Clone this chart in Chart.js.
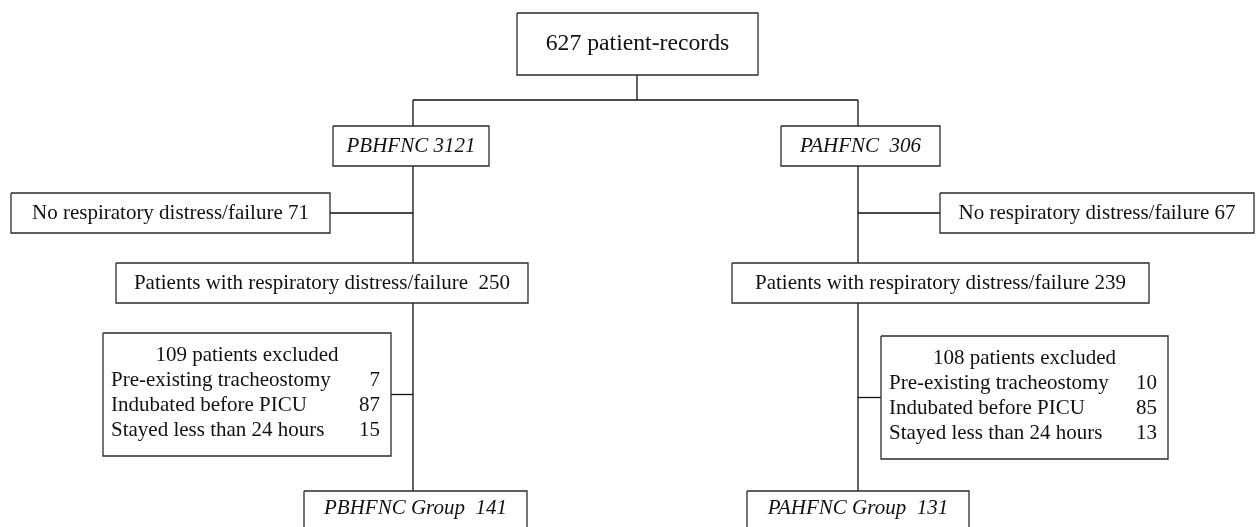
<!DOCTYPE html>
<html lang="en">
<head>
    <meta charset="UTF-8">
    <title>Patient flow</title>
    <script src="https://cdn.jsdelivr.net/npm/chart.js"></script>
    <style>
        body {
            margin: 0;
            background-color: #fff;
        }
        canvas {
            display: block;
        }
    </style>
</head>
<body>

    <canvas id="flowChart" width="1257" height="527"></canvas>

    <script>
        // counts
        const totalRecords = 627;
        const armNames = ['PBHFNC', 'PAHFNC'];
        const armTotals = [3121, 306];
        const noDistress = [71, 67];
        const withDistress = [250, 239];
        const excludedTotals = [109, 108];
        const exclusionReasons = ['Pre-existing tracheostomy', 'Indubated before PICU', 'Stayed less than 24 hours'];
        const excludedCounts = [[7, 87, 15], [10, 85, 13]];
        const groupTotals = [141, 131];

        // layout of the boxes in chart units (x0, y0, x1, y1), left arm then right arm
        const topBox = [517, 13, 758, 75];
        const armBoxes = [[333, 126, 489, 166], [781, 126, 940, 166]];
        const noDistressBoxes = [[11, 193, 330, 233], [940, 193, 1254, 233]];
        const distressBoxes = [[116, 263, 528, 303], [732, 263, 1149, 303]];
        const excludedBoxes = [[103, 333, 391, 456], [881, 336, 1168, 459]];
        const groupBoxes = [[304, 491, 527, 545], [747, 491, 969, 545]];
        const spineX = [413, 858];

        const boxColor = '#2b2b2b';
        const lineColor = '#111';

        function rectPoints(b) {
            return [
                { x: b[0], y: b[1] }, { x: b[2], y: b[1] },
                { x: b[2], y: b[3] }, { x: b[0], y: b[3] }, { x: b[0], y: b[1] }
            ];
        }

        function seg(x0, y0, x1, y1) {
            return [{ x: x0, y: y0 }, { x: x1, y: y1 }];
        }

        const allBoxes = [topBox, ...armBoxes, ...noDistressBoxes, ...distressBoxes, ...excludedBoxes, ...groupBoxes];

        const connectors = [
            seg(637, topBox[3], 637, 100),
            seg(spineX[0], 100, spineX[1], 100)
        ];
        [0, 1].forEach(i => {
            const x = spineX[i];
            const side = i === 0 ? 2 : 0;
            const midNo = (noDistressBoxes[i][1] + noDistressBoxes[i][3]) / 2;
            const midEx = (excludedBoxes[i][1] + excludedBoxes[i][3]) / 2;
            connectors.push(seg(x, 100, x, armBoxes[i][1]));
            connectors.push(seg(x, armBoxes[i][3], x, distressBoxes[i][1]));
            connectors.push(seg(noDistressBoxes[i][side], midNo, x, midNo));
            connectors.push(seg(x, distressBoxes[i][3], x, groupBoxes[i][1]));
            connectors.push(seg(excludedBoxes[i][side], midEx, x, midEx));
        });

        const datasets = [];
        allBoxes.forEach(b => datasets.push({
            data: rectPoints(b),
            showLine: true,
            borderColor: boxColor,
            borderWidth: 1.3,
            pointRadius: 0
        }));
        connectors.forEach(c => datasets.push({
            data: c,
            showLine: true,
            borderColor: lineColor,
            borderWidth: 1.3,
            pointRadius: 0
        }));

        const serif = '"Liberation Serif", "Times New Roman", serif';

        const textPlugin = {
            id: 'flowText',
            afterDatasetsDraw(chart) {
                const ctx = chart.ctx;
                const xs = chart.scales.x;
                const ys = chart.scales.y;
                const px = v => xs.getPixelForValue(v);
                const py = v => ys.getPixelForValue(v);

                function centerText(b, text, font, dy) {
                    ctx.font = font;
                    ctx.textAlign = 'center';
                    ctx.fillText(text, px((b[0] + b[2]) / 2), py(dy !== undefined ? b[1] + dy : (b[1] + b[3]) / 2));
                }

                ctx.save();
                ctx.fillStyle = '#111';
                ctx.textBaseline = 'middle';

                centerText(topBox, totalRecords + ' patient-records', '23.7px ' + serif);

                const armGap = [' ', '  '];
                const distGap = ['  ', ' '];
                [0, 1].forEach(i => {
                    centerText(armBoxes[i], armNames[i] + armGap[i] + armTotals[i], 'italic 21px ' + serif);
                    centerText(noDistressBoxes[i], 'No respiratory distress/failure ' + noDistress[i], '21px ' + serif);
                    centerText(distressBoxes[i], 'Patients with respiratory distress/failure' + distGap[i] + withDistress[i], '21px ' + serif);
                    centerText(groupBoxes[i], armNames[i] + ' Group  ' + groupTotals[i], 'italic 21px ' + serif, 17);

                    const eb = excludedBoxes[i];
                    centerText(eb, excludedTotals[i] + ' patients excluded', '21px ' + serif, 22);
                    ctx.font = '21px ' + serif;
                    exclusionReasons.forEach((r, k) => {
                        const y = py(eb[1] + 47 + k * 25);
                        ctx.textAlign = 'left';
                        ctx.fillText(r, px(eb[0] + 8), y);
                        ctx.textAlign = 'right';
                        ctx.fillText(String(excludedCounts[i][k]), px(eb[2] - 11), y);
                    });
                });
                ctx.restore();
            }
        };

        new Chart(document.getElementById('flowChart'), {
            type: 'scatter',
            data: { datasets: datasets },
            options: {
                responsive: false,
                animation: false,
                layout: { padding: 0 },
                plugins: {
                    legend: { display: false },
                    tooltip: { enabled: false }
                },
                scales: {
                    x: { type: 'linear', min: 0, max: 1257, display: false },
                    y: { type: 'linear', min: 0, max: 527, reverse: true, display: false }
                }
            },
            plugins: [textPlugin]
        });
    </script>

</body>
</html>
